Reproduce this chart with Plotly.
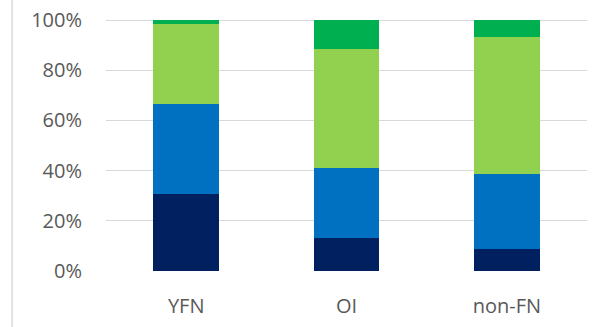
import plotly.graph_objects as go

categories = ["YFN", "OI", "non-FN"]
series_names = ["Series 1", "Series 2", "Series 3", "Series 4"]
s1 = [30.6, 13.1, 8.8]
s2 = [35.8, 28.1, 29.8]
s3 = [32.1, 47.4, 54.7]
s4 = [1.5, 11.4, 6.7]
colors = ["#002060", "#0070C0", "#92D050", "#00B050"]
y_ticks = [0, 20, 40, 60, 80, 100]
y_labels = ["0%", "20%", "40%", "60%", "80%", "100%"]

fig = go.Figure()
for name, vals, col in zip(series_names, [s1, s2, s3, s4], colors):
    fig.add_trace(go.Bar(x=categories, y=vals, name=name, marker=dict(color=col, line=dict(width=0))))

W, H = 613, 327
L, R, T, B = 106, 25.5, 18, 56
fig.update_layout(
    barmode="stack",
    bargap=0.589,
    width=W, height=H,
    margin=dict(l=L, r=R, t=T, b=B, pad=0, autoexpand=False),
    plot_bgcolor="white", paper_bgcolor="white",
    showlegend=False,
    font=dict(family="Open Sans", size=20, color="#595959"),
    xaxis=dict(showline=False, showgrid=False, ticks="", ticklabelstandoff=21,
               tickfont=dict(size=20), automargin=False),
    yaxis=dict(range=[0, 100.8], tickvals=y_ticks, ticktext=y_labels, showgrid=True,
               gridcolor="#D9D9D9", gridwidth=1.3, zeroline=False, showline=False,
               ticks="", ticklabelstandoff=23, tickfont=dict(size=20), automargin=False),
)
plot_w = W - L - R
fig.add_shape(type="line", xref="paper", yref="paper",
              x0=(12 - L) / plot_w, x1=(12 - L) / plot_w,
              y0=-B / (H - T - B), y1=(H - T) / (H - T - B),
              line=dict(color="#D9D9D9", width=1.5))
fig.write_html("out.html", config={"displayModeBar": False},
               post_script="document.body.style.margin='0';")
